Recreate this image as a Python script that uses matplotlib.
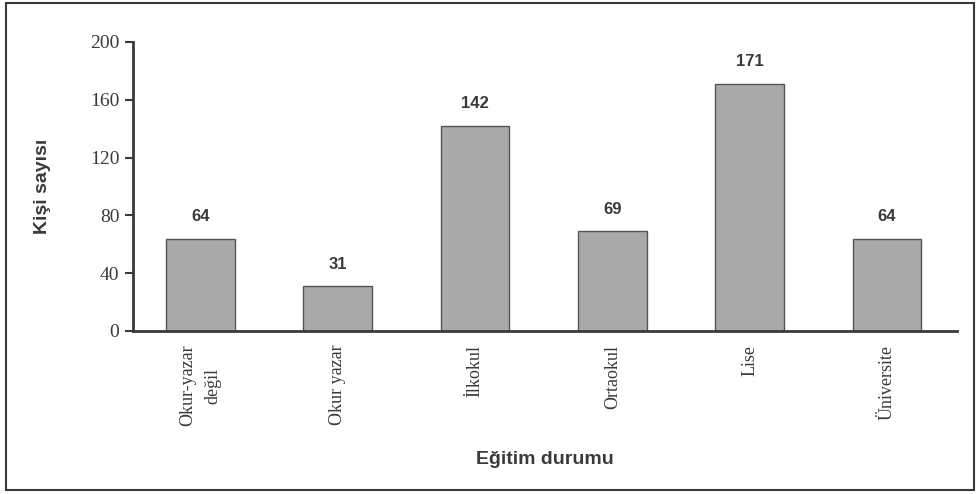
import matplotlib.pyplot as plt
from matplotlib.patches import Rectangle

# egitim durumuna gore kisi sayilari
kategoriler = ["Okur-yazar\ndeğil", "Okur yazar", "İlkokul", "Ortaokul", "Lise", "Üniversite"]
kisi_sayisi = [64, 31, 142, 69, 171, 64]
y_ticks = [0, 40, 80, 120, 160, 200]

koyu = "#3a3a3a"

fig = plt.figure(figsize=(9.79, 4.94), dpi=100)
ax = fig.add_axes([0.136, 0.330, 0.8415, 0.585])

x = list(range(len(kategoriler)))
ax.bar(x, kisi_sayisi, width=0.5, color="#a9a9a9", edgecolor="#555555", linewidth=1)

# degerleri cubuklarin ustune yaz
for xi, v in zip(x, kisi_sayisi):
    ax.text(xi, v + 10, str(v), ha="center", va="bottom", fontsize=12,
            fontweight="bold", family="Liberation Sans", color=koyu)

ax.set_xlim(-0.49, 5.51)
ax.set_ylim(0, 200)
ax.set_yticks(y_ticks)
ax.set_yticklabels([str(t) for t in y_ticks], family="Liberation Serif", fontsize=14, color=koyu)
ax.set_xticks(x)
ax.set_xticklabels(kategoriler, rotation=90, family="Liberation Serif", fontsize=13,
                   color=koyu, va="top", ha="center", multialignment="center", linespacing=1.6)
ax.tick_params(axis="x", length=0, pad=10)
ax.tick_params(axis="y", length=6, width=1.5, color=koyu, pad=4)

for s in ["top", "right"]:
    ax.spines[s].set_visible(False)
for s in ["left", "bottom"]:
    ax.spines[s].set_linewidth(2)
    ax.spines[s].set_color(koyu)

ax.set_ylabel("Kişi sayısı", fontsize=14, fontweight="bold", family="Liberation Sans",
              color=koyu, labelpad=28)
ax.set_xlabel("Eğitim durumu", fontsize=14, fontweight="bold", family="Liberation Sans",
              color=koyu, labelpad=18)

# cerceve
fig.patches.append(Rectangle((0.006, 0.008), 0.989, 0.986, transform=fig.transFigure,
                             fill=False, edgecolor=koyu, linewidth=1.5))

fig.savefig("out.png", dpi=100)
